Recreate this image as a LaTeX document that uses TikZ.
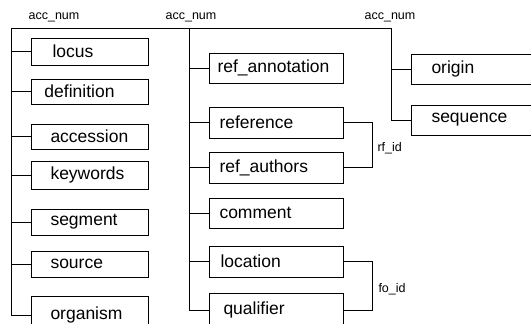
\documentclass[tikz,border=0pt]{standalone}
\usepackage{fontspec}
\setmainfont{Liberation Sans}
\begin{document}
\begin{tikzpicture}[x=1pt,y=-1pt,line width=1pt,
  tbl/.style={draw, rectangle, anchor=west, align=left, inner ysep=2pt,
    font=\fontsize{17.5}{20}\selectfont},
  lbox/.style={tbl, text width=79pt, inner xsep=19pt, minimum height=#1},
  mbox/.style={tbl, text width=118pt, inner xsep=8pt, minimum height=#1},
  rbox/.style={tbl, text width=94pt, inner xsep=20pt, minimum height=#1},
  lbl/.style={font=\fontsize{12.5}{14}\selectfont, inner sep=0pt}]
\useasboundingbox (0,0) rectangle (531,324);
\clip (0,0) rectangle (531,324);
% coordinates of the buses
\coordinate (lt) at (11,28);
\coordinate (mt) at (189,28);
\coordinate (rt) at (391,28);
% left column
\node[lbox=27pt] (locus) at (31,51.5) {\hspace*{2pt}locus};
\node[lbox=25pt] (definition) at (31,91.5) {\hspace*{-6pt}definition};
\node[lbox=25pt] (accession) at (31,136.5) {accession};
\node[lbox=28pt] (keywords) at (31,175) {keywords};
\node[lbox=26pt] (segment) at (31,222) {segment};
\node[lbox=26pt] (source) at (31,264) {source};
\node[lbox=38pt] (organism) at (31,315) {organism};
% middle column
\node[mbox=30pt] (refann) at (209,68) {ref\_annotation};
\node[mbox=31pt] (reference) at (209,122.5) {\hspace*{2pt}reference};
\node[mbox=31pt] (refauth) at (209,167.5) {\hspace*{2pt}ref\_authors};
\node[mbox=30pt] (comment) at (209,213) {\hspace*{2pt}comment};
\node[mbox=31pt] (location) at (209,261.5) {\hspace*{3pt}location};
\node[mbox=34pt] (qualifier) at (209,310) {\hspace*{6pt}qualifier};
% right column
\node[rbox=30pt] (origin) at (411,69) {origin};
\node[rbox=30pt] (sequence) at (411,120) {sequence};
% labels
\node[lbl] (acc1) at (54,17) {acc\_num};
\node[lbl] (acc2) at (191,17) {acc\_num};
\node[lbl] (acc3) at (390,17) {acc\_num};
\node[lbl, anchor=west] (rfid) at (377,148) {rf\_id};
\node[lbl, anchor=west] (foid) at (378,289) {fo\_id};
% buses
\draw (lt) -- (rt);
\draw (lt) |- (organism.west);
\draw (mt) |- (qualifier.west);
\draw (rt) |- (sequence.west);
% stubs
\foreach \n in {locus,definition,accession,keywords,segment,source}
  \draw (lt |- \n.west) -- (\n.west);
\foreach \n in {refann,reference,refauth,comment,location}
  \draw (mt |- \n.west) -- (\n.west);
\draw (rt |- origin.west) -- (origin.west);
% brackets
\draw (reference.east) -- ++(28,0) |- (refauth.east);
\draw (location.east) -- ++(28,0) |- (qualifier.east);
\end{tikzpicture}
\end{document}
